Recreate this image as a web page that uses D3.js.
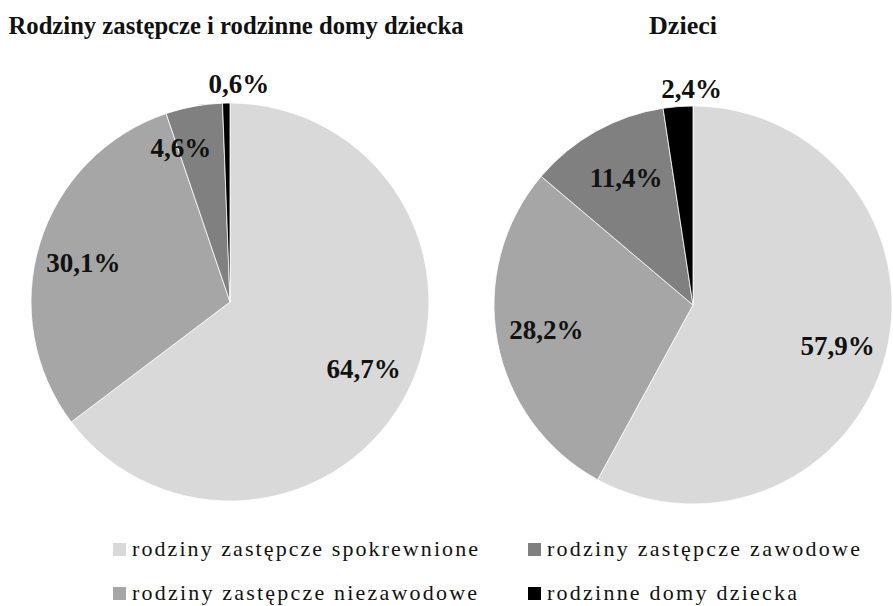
<!DOCTYPE html>
<html>
<head>
<meta charset="utf-8">
<script src="https://cdn.jsdelivr.net/npm/d3@7"></script>
<style>
  html, body { margin: 0; padding: 0; background: #fff; }
  svg { display: block; }
</style>
</head>
<body>
<svg id="chart" width="893" height="606"></svg>
<script>
// ---- data ----
const categories = [
  "rodziny zastępcze spokrewnione",
  "rodziny zastępcze niezawodowe",
  "rodziny zastępcze zawodowe",
  "rodzinne domy dziecka"
];
const familiesValues = [64.7, 30.1, 4.6, 0.6];
const childrenValues = [57.9, 28.2, 11.4, 2.4];
const chartTitles = ["Rodziny zastępcze i rodzinne domy dziecka", "Dzieci"];
const colors = ["#d9d9d9", "#a6a6a6", "#808080", "#000000"];

// ---- style: label nudges (pixels) per slice, like the spreadsheet's "best fit" ----
const familiesLabelNudge = [[0, 0], [-4, 4], [-22, -8], [13, -1]];
const childrenLabelNudge = [[0, 4], [0, -3], [6, 3], [15, 0]];

// ---- layout ----
const svg = d3.select("#chart");
const R = 199;
const pies = [
  { title: chartTitles[0], values: familiesValues, nudge: familiesLabelNudge, cx: 230, cy: 302, tx: 236, tlen: 455 },
  { title: chartTitles[1], values: childrenValues, nudge: childrenLabelNudge, cx: 693, cy: 305, tx: 683, tlen: 68 }
];

const color = d3.scaleOrdinal().domain(categories).range(colors);
const pie = d3.pie().sort(null).value(d => d.v);
const arc = d3.arc().innerRadius(0).outerRadius(R);
const labelArc = d3.arc().innerRadius(R * 0.75).outerRadius(R * 0.75);
const outerLabelArc = d3.arc().innerRadius(R + 18).outerRadius(R + 18);
const fmt = v => d3.format(".1f")(v).replace(".", ",") + "%";

pies.forEach(p => {
  svg.append("text")
    .attr("x", p.tx).attr("y", 34)
    .attr("text-anchor", "middle")
    .attr("font-family", "'Liberation Serif', 'Times New Roman', serif")
    .attr("font-weight", "bold")
    .attr("font-size", 25)
    .attr("textLength", p.tlen)
    .attr("lengthAdjust", "spacingAndGlyphs")
    .attr("fill", "#111")
    .text(p.title);

  const g = svg.append("g").attr("transform", `translate(${p.cx},${p.cy})`);
  const arcs = pie(p.values.map((v, i) => ({ v, c: categories[i], i })));

  g.selectAll("path").data(arcs).join("path")
    .attr("d", arc)
    .attr("fill", d => color(d.data.c))
    .attr("stroke", "#ffffff")
    .attr("stroke-width", 0.8);

  g.selectAll("text").data(arcs).join("text")
    .attr("transform", d => {
      const small = d.data.v < 3;
      const c = (small ? outerLabelArc : labelArc).centroid(d);
      const n = p.nudge[d.data.i];
      return `translate(${c[0] + n[0]},${c[1] + n[1]})`;
    })
    .attr("text-anchor", "middle")
    .attr("dy", "0.35em")
    .attr("font-family", "'Liberation Serif', 'Times New Roman', serif")
    .attr("font-weight", "bold")
    .attr("font-size", 27)
    .attr("fill", "#111")
    .text(d => fmt(d.data.v));
});

// ---- legend ----
const legendCols = [113, 528];
const legendRows = [543, 587];
const legendLens = [346, 345, 313, 250];
const lg = svg.append("g");
categories.forEach((c, i) => {
  const col = Math.floor(i / 2), row = i % 2;
  const x = legendCols[col], y = legendRows[row];
  lg.append("rect")
    .attr("x", x).attr("y", y)
    .attr("width", 13).attr("height", 13)
    .attr("fill", color(c));
  lg.append("text")
    .attr("x", x + 19).attr("y", y + 13)
    .attr("font-family", "'Liberation Serif', 'Times New Roman', serif")
    .attr("font-size", 22)
    .attr("textLength", legendLens[i])
    .attr("lengthAdjust", "spacing")
    .attr("fill", "#111")
    .text(c);
});
</script>
</body>
</html>
